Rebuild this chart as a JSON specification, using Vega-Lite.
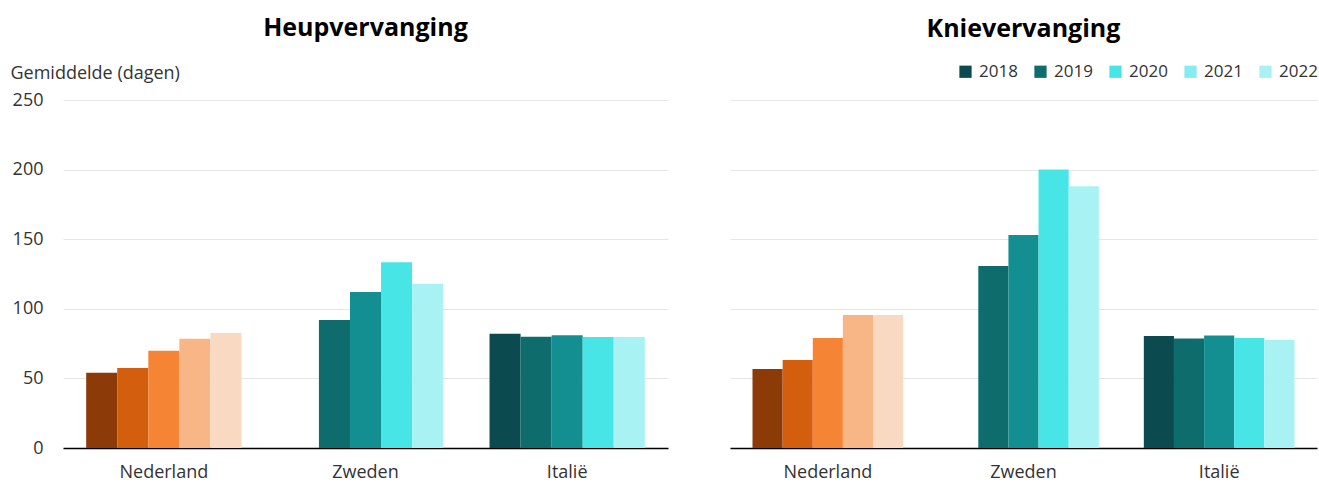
{
  "$schema": "https://vega.github.io/schema/vega-lite/v6.json",
  "padding": {"left": 10, "top": 16, "right": 2, "bottom": 0},
  "background": "white",
  "config": {
    "font": "Open Sans",
    "view": {"stroke": null},
    "axis": {"labelFont": "Open Sans", "labelFontSize": 18, "labelColor": "#333333", "titleFont": "Open Sans", "titleFontSize": 18, "titleFontWeight": "normal", "titleColor": "#333333"},
    "title": {"font": "Open Sans", "fontSize": 25, "fontWeight": "bold", "color": "#000000", "baseline": "alphabetic", "anchor": "middle"}
  },
  "datasets": {
    "tabel": [
      {"ingreep": "Heupvervanging", "land": "Nederland", "jaar": "2018", "dagen": 54},
      {"ingreep": "Heupvervanging", "land": "Nederland", "jaar": "2019", "dagen": 57.5},
      {"ingreep": "Heupvervanging", "land": "Nederland", "jaar": "2020", "dagen": 69.8},
      {"ingreep": "Heupvervanging", "land": "Nederland", "jaar": "2021", "dagen": 78.4},
      {"ingreep": "Heupvervanging", "land": "Nederland", "jaar": "2022", "dagen": 82.7},
      {"ingreep": "Heupvervanging", "land": "Zweden", "jaar": "2019", "dagen": 92},
      {"ingreep": "Heupvervanging", "land": "Zweden", "jaar": "2020", "dagen": 112},
      {"ingreep": "Heupvervanging", "land": "Zweden", "jaar": "2021", "dagen": 133.4},
      {"ingreep": "Heupvervanging", "land": "Zweden", "jaar": "2022", "dagen": 118},
      {"ingreep": "Heupvervanging", "land": "Italië", "jaar": "2018", "dagen": 82},
      {"ingreep": "Heupvervanging", "land": "Italië", "jaar": "2019", "dagen": 80},
      {"ingreep": "Heupvervanging", "land": "Italië", "jaar": "2020", "dagen": 81},
      {"ingreep": "Heupvervanging", "land": "Italië", "jaar": "2021", "dagen": 79.7},
      {"ingreep": "Heupvervanging", "land": "Italië", "jaar": "2022", "dagen": 79.7},
      {"ingreep": "Knievervanging", "land": "Nederland", "jaar": "2018", "dagen": 56.8},
      {"ingreep": "Knievervanging", "land": "Nederland", "jaar": "2019", "dagen": 63.2},
      {"ingreep": "Knievervanging", "land": "Nederland", "jaar": "2020", "dagen": 79},
      {"ingreep": "Knievervanging", "land": "Nederland", "jaar": "2021", "dagen": 95.5},
      {"ingreep": "Knievervanging", "land": "Nederland", "jaar": "2022", "dagen": 95.5},
      {"ingreep": "Knievervanging", "land": "Zweden", "jaar": "2019", "dagen": 130.7},
      {"ingreep": "Knievervanging", "land": "Zweden", "jaar": "2020", "dagen": 153},
      {"ingreep": "Knievervanging", "land": "Zweden", "jaar": "2021", "dagen": 200},
      {"ingreep": "Knievervanging", "land": "Zweden", "jaar": "2022", "dagen": 188},
      {"ingreep": "Knievervanging", "land": "Italië", "jaar": "2018", "dagen": 80.4},
      {"ingreep": "Knievervanging", "land": "Italië", "jaar": "2019", "dagen": 78.6},
      {"ingreep": "Knievervanging", "land": "Italië", "jaar": "2020", "dagen": 80.8},
      {"ingreep": "Knievervanging", "land": "Italië", "jaar": "2021", "dagen": 79},
      {"ingreep": "Knievervanging", "land": "Italië", "jaar": "2022", "dagen": 77.7}
    ]
  },
  "spacing": 62,
  "resolve": {"scale": {"color": "independent", "fill": "independent", "y": "independent", "x": "independent", "xOffset": "independent"}},
  "hconcat": [
    {
      "width": 605,
      "height": 348,
      "data": {"name": "tabel"},
      "transform": [
        {"filter": "datum.ingreep === 'Heupvervanging'"},
        {"calculate": "(datum.land === 'Nederland' ? 'NL ' : 'Overig ') + datum.jaar", "as": "kleursleutel"}
      ],
      "title": {"text": "Heupvervanging", "offset": 23},
      "mark": {"type": "bar"},
      "encoding": {
        "x": {"field": "land", "type": "nominal", "sort": ["Nederland", "Zweden", "Italië"],
          "scale": {"paddingInner": 0.23, "paddingOuter": 0.115},
          "axis": {"title": null, "labelAngle": 0, "ticks": false, "domainColor": "#000000", "domainWidth": 1.5, "labelPadding": 15, "grid": false}},
        "xOffset": {"field": "jaar", "type": "nominal", "scale": {"domain": ["2018", "2019", "2020", "2021", "2022"], "paddingInner": 0, "paddingOuter": 0}},
        "y": {"field": "dagen", "type": "quantitative", "scale": {"domain": [0, 250]},
          "axis": {"values": [0, 50, 100, 150, 200, 250], "title": "Gemiddelde (dagen)", "titleAngle": 0, "titleAlign": "left", "titleBaseline": "alphabetic", "titleX": -53, "titleY": -22, "domain": false, "ticks": false, "labelPadding": 20, "gridColor": "#e6e6e6", "gridWidth": 1}},
        "fill": {"field": "kleursleutel", "type": "nominal", "legend": null,
          "scale": {"domain": ["NL 2018", "NL 2019", "NL 2020", "NL 2021", "NL 2022", "Overig 2018", "Overig 2019", "Overig 2020", "Overig 2021", "Overig 2022"],
            "range": ["#8c3a08", "#d35e0e", "#f58434", "#f8b585", "#fad9c2", "#0b4a4e", "#0f6c6c", "#148f91", "#48e5e7", "#a8f2f4"]}}
      }
    },
    {
      "width": 587,
      "height": 348,
      "data": {"name": "tabel"},
      "transform": [
        {"filter": "datum.ingreep === 'Knievervanging'"},
        {"calculate": "(datum.land === 'Nederland' ? 'NL ' : 'Overig ') + datum.jaar", "as": "kleursleutel"}
      ],
      "title": {"text": "Knievervanging", "offset": 21},
      "layer": [
        {
          "mark": {"type": "bar"},
          "encoding": {
            "x": {"field": "land", "type": "nominal", "sort": ["Nederland", "Zweden", "Italië"],
              "scale": {"paddingInner": 0.23, "paddingOuter": 0.115},
              "axis": {"title": null, "labelAngle": 0, "ticks": false, "domainColor": "#000000", "domainWidth": 1.5, "labelPadding": 15, "grid": false}},
            "xOffset": {"field": "jaar", "type": "nominal", "scale": {"domain": ["2018", "2019", "2020", "2021", "2022"], "paddingInner": 0, "paddingOuter": 0}},
            "y": {"field": "dagen", "type": "quantitative", "scale": {"domain": [0, 250]},
              "axis": {"values": [0, 50, 100, 150, 200, 250], "title": null, "labels": false, "domain": false, "ticks": false, "gridColor": "#e6e6e6", "gridWidth": 1}},
            "fill": {"field": "kleursleutel", "type": "nominal", "legend": null,
              "scale": {"domain": ["NL 2018", "NL 2019", "NL 2020", "NL 2021", "NL 2022", "Overig 2018", "Overig 2019", "Overig 2020", "Overig 2021", "Overig 2022"],
                "range": ["#8c3a08", "#d35e0e", "#f58434", "#f8b585", "#fad9c2", "#0b4a4e", "#0f6c6c", "#148f91", "#48e5e7", "#a8f2f4"]}}
          }
        },
        {
          "transform": [{"filter": "false"}],
          "mark": {"type": "square", "filled": true, "opacity": 1},
          "encoding": {
            "color": {"field": "jaar", "type": "nominal",
              "scale": {"domain": ["2018", "2019", "2020", "2021", "2022"], "range": ["#0b4a4e", "#0f6c6c", "#48e5e7", "#86ecef", "#a8f2f4"]},
              "legend": {"orient": "none", "legendX": 227, "legendY": -37, "direction": "horizontal", "title": null, "symbolType": "square", "symbolSize": 150, "symbolStrokeWidth": 0, "symbolOpacity": 1, "labelFont": "Open Sans", "labelFontSize": 17, "labelColor": "#333333", "columnPadding": 14, "labelOffset": 5}}
          }
        }
      ]
    }
  ]
}
